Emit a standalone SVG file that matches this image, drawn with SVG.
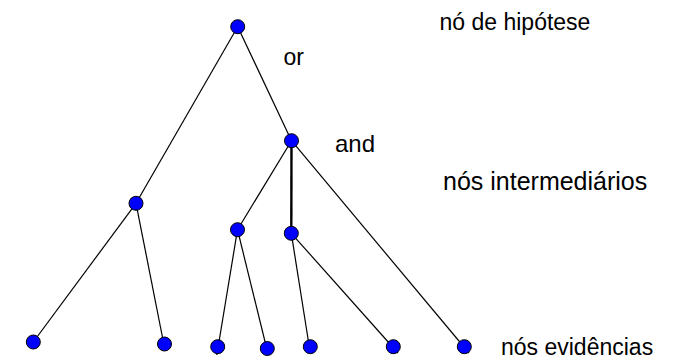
<svg xmlns="http://www.w3.org/2000/svg" width="688" height="360" viewBox="0 0 688 360">
<style>
.e{stroke:#000;stroke-width:1.2;fill:none}
.t{stroke:#000;stroke-width:2.4;fill:none}
.n{fill:#0000ff;stroke:#000;stroke-width:1}
text{font-family:"Liberation Sans",Arial,sans-serif;font-size:23px;fill:#000}
.big{font-size:25px}
</style>
<rect width="688" height="360" fill="#fff"/>
<g id="connectors">
<line class="e" x1="237.7" y1="26.7" x2="136" y2="203.3"/>
<line class="e" x1="237.7" y1="26.7" x2="291.5" y2="140.7"/>
<line class="e" x1="136" y1="203.3" x2="33.3" y2="342"/>
<line class="e" x1="136" y1="203.3" x2="165.2" y2="351"/>
<line class="e" x1="291.5" y1="140.7" x2="237.5" y2="229.7"/>
<line class="t" x1="291.5" y1="140.7" x2="291.3" y2="233.3"/>
<line class="e" x1="291.5" y1="140.7" x2="469" y2="353"/>
<line class="e" x1="237.5" y1="229.7" x2="216.8" y2="355"/>
<line class="e" x1="237.5" y1="229.7" x2="268.3" y2="355"/>
<line class="e" x1="291.3" y1="233.3" x2="309.8" y2="350"/>
<line class="e" x1="291.3" y1="233.3" x2="398" y2="353"/>
</g>
<g id="n-root"><circle class="n" cx="237.7" cy="26.7" r="7"/></g>
<g id="n-and"><circle class="n" cx="291.5" cy="140.7" r="7"/></g>
<g id="n-left"><circle class="n" cx="136" cy="203.3" r="7"/></g>
<g id="n-mid1"><circle class="n" cx="237.5" cy="229.7" r="7"/></g>
<g id="n-mid2"><circle class="n" cx="291.3" cy="233.3" r="7"/></g>
<g id="n-l1"><circle class="n" cx="33.3" cy="342" r="7"/></g>
<g id="n-l2"><circle class="n" cx="164.5" cy="344" r="7"/></g>
<g id="n-l3"><circle class="n" cx="217.7" cy="346.7" r="7"/></g>
<g id="n-l4"><circle class="n" cx="267.3" cy="348.5" r="7"/></g>
<g id="n-l5"><circle class="n" cx="310.3" cy="346.7" r="7"/></g>
<g id="n-l6"><circle class="n" cx="393.3" cy="346.7" r="7"/></g>
<g id="n-l7"><circle class="n" cx="464.3" cy="346.7" r="7"/></g>
<g id="labels">
<text x="439.5" y="30">nó de hipótese</text>
<text x="283.5" y="65">or</text>
<text x="335" y="152" style="font-size:24px">and</text>
<text class="big" x="443" y="190">nós intermediários</text>
<text x="501" y="355">nós evidências</text>
</g>
</svg>
